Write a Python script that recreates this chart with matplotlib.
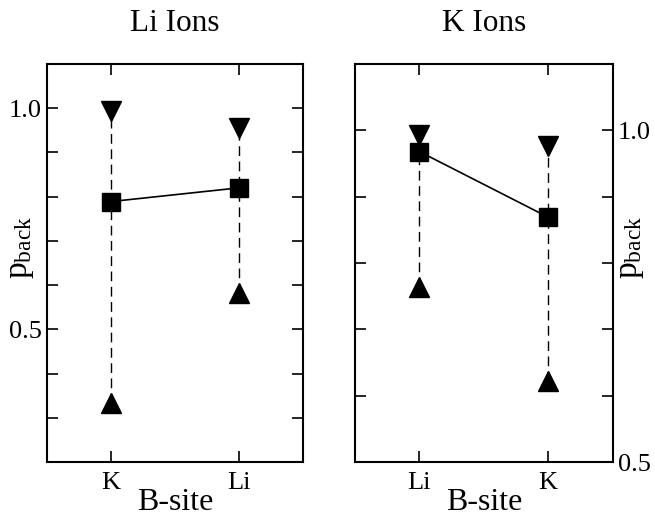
import matplotlib.pyplot as plt
from matplotlib.ticker import MultipleLocator

plt.rcParams['font.family'] = ['Liberation Serif', 'DejaVu Serif']
plt.rcParams['mathtext.fontset'] = 'custom'
plt.rcParams['mathtext.rm'] = 'Liberation Serif'

# Data
li_sites = ['K', 'Li']
li_mean = [0.789, 0.820]
li_max = [0.993, 0.955]
li_min = [0.334, 0.583]

k_sites = ['Li', 'K']
k_mean = [0.968, 0.869]
k_max = [0.993, 0.976]
k_min = [0.764, 0.622]

fig = plt.figure(figsize=(6.55, 5.18), dpi=100)
ax1 = fig.add_axes([0.0718, 0.1081, 0.3908, 0.7683])
ax2 = fig.add_axes([0.542, 0.1081, 0.3934, 0.7683])


def draw(ax, sites, mean, vmax, vmin, title, ylim):
    x = list(range(1, len(sites) + 1))
    for xi, lo, hi in zip(x, vmin, vmax):
        ax.plot([xi, xi], [lo, hi], color='black', lw=1.0, ls=(0, (7, 4)), zorder=1)
    ax.plot(x, vmax, 'v', color='black', ms=15, zorder=2)
    ax.plot(x, vmin, '^', color='black', ms=15, zorder=2)
    ax.plot(x, mean, '-', color='black', lw=1.2, zorder=3)
    ax.plot(x, mean, 's', color='black', ms=13, zorder=4)
    ax.set_xlim(0.5, len(sites) + 0.5)
    ax.set_ylim(*ylim)
    ax.set_xticks(x)
    ax.set_xticklabels(sites)
    ax.yaxis.set_major_locator(MultipleLocator(0.5))
    ax.yaxis.set_minor_locator(MultipleLocator(0.1))
    ax.yaxis.set_major_formatter(plt.FormatStrFormatter('%.1f'))
    ax.tick_params(which='both', direction='in', top=True, right=True,
                   length=8, width=1.2, labelsize=19)
    ax.tick_params(axis='x', pad=7)
    for s in ax.spines.values():
        s.set_linewidth(1.5)
    ax.set_xlabel('B-site', fontsize=23, labelpad=-4)
    ax.set_title(title, fontsize=22.5, pad=24)


draw(ax1, li_sites, li_mean, li_max, li_min, 'Li Ions', (0.2, 1.1))
ax1.set_ylabel(r'$\mathregular{p_{back}}$', fontsize=24)
ax1.yaxis.set_label_coords(-0.045, 0.54)

draw(ax2, k_sites, k_mean, k_max, k_min, 'K Ions', (0.5, 1.1))
ax2.yaxis.tick_right()
ax2.tick_params(which='both', direction='in', left=True, right=True)
ax2.yaxis.set_label_position('right')
ax2.set_ylabel(r'$\mathregular{p_{back}}$', fontsize=24)
ax2.yaxis.set_label_coords(1.01, 0.54)

fig.savefig('out.png', dpi=100)
